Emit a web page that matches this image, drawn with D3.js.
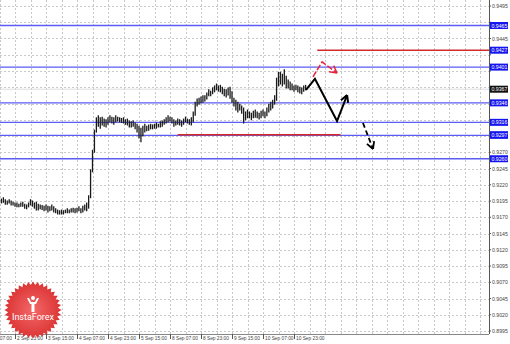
<!DOCTYPE html>
<html>
<head>
<meta charset="utf-8">
<script src="https://cdn.jsdelivr.net/npm/d3@7"></script>
<style>
  body { margin: 0; background: #fff; }
  svg { display: block; font-family: "Liberation Sans", Arial, sans-serif; }
</style>
</head>
<body>
<svg id="chart" width="510" height="344"></svg>
<script>
// H1 bars, highs and lows (first bar is bar index 9)
const firstBar = 9;
const highs = [9198, 9200, 9197, 9195, 9197, 9195, 9193, 9192, 9192, 9190, 9192, 9193, 9190, 9189, 9192, 9197,
  9195, 9192, 9193, 9190, 9189, 9188, 9187, 9189, 9187, 9186, 9189, 9186, 9183, 9181, 9180, 9181, 9180, 9181, 9183, 9181,
  9183, 9184, 9183, 9184, 9186, 9183, 9187, 9189, 9192, 9203, 9243, 9273, 9304, 9323, 9326, 9323, 9324, 9321, 9320, 9323,
  9326, 9324, 9323, 9326, 9324, 9323, 9322, 9323, 9320, 9321, 9318, 9317, 9318, 9315, 9313, 9310, 9307, 9310, 9313, 9310,
  9312, 9313, 9312, 9313, 9315, 9313, 9317, 9318, 9320, 9323, 9326, 9324, 9323, 9320, 9318, 9321, 9320, 9318, 9321, 9324,
  9321, 9320, 9323, 9332, 9347, 9352, 9353, 9355, 9357, 9357, 9361, 9366, 9364, 9369, 9372, 9375, 9372, 9373, 9370, 9367,
  9366, 9369, 9370, 9363, 9353, 9350, 9347, 9344, 9341, 9338, 9332, 9335, 9332, 9330, 9333, 9335, 9332, 9330, 9333, 9335,
  9332, 9338, 9344, 9347, 9350, 9357, 9384, 9393, 9393, 9390, 9397, 9387, 9381, 9378, 9375, 9372, 9373, 9372, 9370, 9369,
  9372, 9373];
const lows = [9192, 9193, 9190, 9190, 9192, 9189, 9189, 9187, 9186, 9186, 9187, 9187, 9184, 9183, 9186, 9189,
  9187, 9184, 9181, 9181, 9183, 9182, 9180, 9181, 9178, 9180, 9181, 9178, 9177, 9175, 9175, 9175, 9175, 9177, 9177, 9177,
  9178, 9178, 9177, 9178, 9180, 9177, 9178, 9181, 9180, 9184, 9200, 9240, 9270, 9301, 9310, 9307, 9312, 9310, 9309, 9313,
  9317, 9315, 9313, 9317, 9318, 9317, 9316, 9315, 9313, 9312, 9309, 9309, 9310, 9306, 9301, 9292, 9286, 9295, 9301, 9303,
  9304, 9306, 9306, 9307, 9307, 9309, 9309, 9310, 9313, 9315, 9317, 9318, 9315, 9310, 9312, 9313, 9312, 9310, 9313, 9317,
  9315, 9313, 9312, 9317, 9327, 9341, 9344, 9346, 9347, 9349, 9352, 9357, 9357, 9360, 9363, 9366, 9364, 9363, 9360, 9357,
  9355, 9358, 9353, 9347, 9341, 9335, 9332, 9335, 9330, 9315, 9320, 9323, 9323, 9320, 9323, 9324, 9323, 9321, 9323, 9326,
  9323, 9326, 9332, 9335, 9338, 9344, 9350, 9372, 9375, 9372, 9375, 9369, 9369, 9366, 9366, 9364, 9366, 9363, 9361, 9360,
  9364, 9366];
const lastPrice = 0.9367;

// price axis
const yTicks = d3.range(0, 21).map(k => +(0.9495 - k * 0.0025).toFixed(4));
// time axis, one label every 16 bars from bar 0
const xLabels = ["2 Sep 07:00", "2 Sep 23:00", "3 Sep 15:00", "4 Sep 07:00", "4 Sep 23:00", "5 Sep 15:00",
  "8 Sep 07:00", "8 Sep 23:00", "9 Sep 15:00", "10 Sep 07:00", "10 Sep 23:00"];

// levels
const blueLevels = [0.9465, 0.9401, 0.9346, 0.9316, 0.9296, 0.9260];
const redLevels = [
  { price: 0.9427, from: 172, to: 261 },
  { price: 0.9297, from: 100, to: 184 }
];
// forecast paths [bar, price]
const mainPath = [[166.2, 0.9366], [170.8, 0.9383], [182.2, 0.9318], [187.4, 0.9358]];
const altPath = [[169.8, 0.9386], [174.5, 0.9409], [182.2, 0.9392]];
const downPath = [[195.6, 0.9315], [200.8, 0.9275]];

const svg = d3.select("#chart");
const W = 489, B = 334;

const x = d3.scaleLinear().domain([0, 16]).range([-16, 15]);
const y = d3.scaleLinear().domain([0.8995, 0.9495]).range([331, 6]);

// grid
const g = svg.append("g");
g.selectAll(".gx").data(d3.range(0, 261, 8)).enter().append("line")
  .attr("x1", d => Math.round(x(d)) + 0.5).attr("x2", d => Math.round(x(d)) + 0.5)
  .attr("y1", 0).attr("y2", B)
  .attr("stroke", "#c8c8c8").attr("stroke-dasharray", "2,2");
g.selectAll(".gy").data(yTicks).enter().append("line")
  .attr("x1", 0).attr("x2", W)
  .attr("y1", d => Math.round(y(d)) + 0.5).attr("y2", d => Math.round(y(d)) + 0.5)
  .attr("stroke", "#c8c8c8").attr("stroke-dasharray", "2,2");

// current price line
svg.append("line").attr("x1", 0).attr("x2", W)
  .attr("y1", y(lastPrice)).attr("y2", y(lastPrice))
  .attr("stroke", "#dcdcdc");

// blue levels
svg.selectAll(".bl").data(blueLevels).enter().append("line")
  .attr("x1", 0).attr("x2", W)
  .attr("y1", d => y(d)).attr("y2", d => y(d))
  .attr("stroke", "#5b5bf5").attr("stroke-width", 1.3);

// red levels
svg.selectAll(".rl").data(redLevels).enter().append("line")
  .attr("x1", d => x(d.from)).attr("x2", d => Math.min(W, x(d.to)))
  .attr("y1", d => y(d.price)).attr("y2", d => y(d.price))
  .attr("stroke", "#d42a2a").attr("stroke-width", 1.6);

// bars
svg.selectAll(".bar").data(highs).enter().append("line")
  .attr("x1", (d, i) => x(firstBar + i)).attr("x2", (d, i) => x(firstBar + i))
  .attr("y1", d => y(d / 10000) - 0.5).attr("y2", (d, i) => y(lows[i] / 10000) + 0.5)
  .attr("stroke", "#1a1a1a").attr("stroke-width", 1.3);

// forecast arrows
const line = d3.line().x(d => x(d[0])).y(d => y(d[1]));
function arrowHead(path, color, w) {
  const a = path[path.length - 2], b = path[path.length - 1];
  const x1 = x(a[0]), y1 = y(a[1]), x2 = x(b[0]), y2 = y(b[1]);
  const ang = Math.atan2(y2 - y1, x2 - x1);
  const L = 8;
  [0.5, -0.5].forEach(o => {
    svg.append("line").attr("x1", x2).attr("y1", y2)
      .attr("x2", x2 - L * Math.cos(ang + o)).attr("y2", y2 - L * Math.sin(ang + o))
      .attr("stroke", color).attr("stroke-width", w);
  });
}
svg.append("path").attr("d", line(mainPath)).attr("fill", "none")
  .attr("stroke", "#000").attr("stroke-width", 2);
arrowHead(mainPath, "#000", 2);
svg.append("path").attr("d", line(altPath)).attr("fill", "none")
  .attr("stroke", "#e8243c").attr("stroke-width", 1.5).attr("stroke-dasharray", "6,2");
arrowHead(altPath, "#e8243c", 1.5);
svg.append("path").attr("d", line(downPath)).attr("fill", "none")
  .attr("stroke", "#000").attr("stroke-width", 1.8).attr("stroke-dasharray", "5,3");
arrowHead(downPath, "#000", 1.8);

// axes frame
svg.append("line").attr("x1", W + 0.5).attr("x2", W + 0.5).attr("y1", 0).attr("y2", B)
  .attr("stroke", "#555");
svg.append("line").attr("x1", 0).attr("x2", W).attr("y1", B + 0.5).attr("y2", B + 0.5)
  .attr("stroke", "#888");

// price labels (those hidden behind a level tag are left out)
const tagPrices = blueLevels.concat(redLevels.map(r => r.price), [lastPrice]);
const freeTicks = yTicks.filter(t => tagPrices.every(p => Math.abs(y(p) - y(t)) > 5.5));
svg.selectAll(".yt").data(freeTicks).enter().append("text")
  .attr("x", 492).attr("y", d => y(d) + 2)
  .attr("font-size", 5.2).attr("fill", "#444")
  .text(d => d.toFixed(4));
svg.selectAll(".ytk").data(yTicks).enter().append("line")
  .attr("x1", W).attr("x2", W + 2).attr("y1", d => y(d)).attr("y2", d => y(d))
  .attr("stroke", "#555");

function tag(price, color) {
  svg.append("rect").attr("x", 490).attr("y", y(price) - 3.5).attr("width", 18).attr("height", 7)
    .attr("fill", color);
  svg.append("text").attr("x", 491.5).attr("y", y(price) + 2)
    .attr("font-size", 5.2).attr("fill", "#fff").text(price.toFixed(4));
}
blueLevels.forEach(p => tag(p, "#1515ee"));
redLevels.forEach(r => tag(r.price, "#1515ee"));
tag(lastPrice, "#111");

// time labels
const xt = svg.append("g");
xt.selectAll("line").data(xLabels).enter().append("line")
  .attr("x1", (d, i) => Math.round(x(i * 16)) + 0.5).attr("x2", (d, i) => Math.round(x(i * 16)) + 0.5)
  .attr("y1", B).attr("y2", B + 5).attr("stroke", "#555");
xt.selectAll("text").data(xLabels).enter().append("text")
  .attr("x", (d, i) => x(i * 16) + 2).attr("y", B + 6)
  .attr("font-size", 4.8).attr("fill", "#444").text(d => d);

// logo
const logo = svg.append("g").attr("transform", "translate(33,310)");
const grad = svg.append("defs").append("radialGradient").attr("id", "lg");
grad.append("stop").attr("offset", "0%").attr("stop-color", "#f26868");
grad.append("stop").attr("offset", "100%").attr("stop-color", "#dc3434");
const teeth = 36;
const star = d3.range(teeth * 2).map(k => {
  const r = k % 2 ? 25 : 28.5, a = k * Math.PI / teeth;
  return [r * Math.cos(a), r * Math.sin(a)];
});
logo.append("path").attr("d", "M" + star.join("L") + "Z").attr("fill", "url(#lg)");
logo.append("circle").attr("cx", 0).attr("cy", -12).attr("r", 2).attr("fill", "#fff");
logo.append("path").attr("d", "M-6,-12 L-3,-6 L-1.5,-6 L-1.5,2 L1.5,2 L1.5,-6 L3,-6 L6,-12 L4,-12 L2,-8 L-2,-8 L-4,-12 Z")
  .attr("fill", "#fff");
logo.append("text").attr("x", 0).attr("y", 10).attr("text-anchor", "middle")
  .attr("font-size", 9).attr("fill", "#fff").attr("font-family", "Roboto, sans-serif").text("InstaForex");
</script>
</body>
</html>
